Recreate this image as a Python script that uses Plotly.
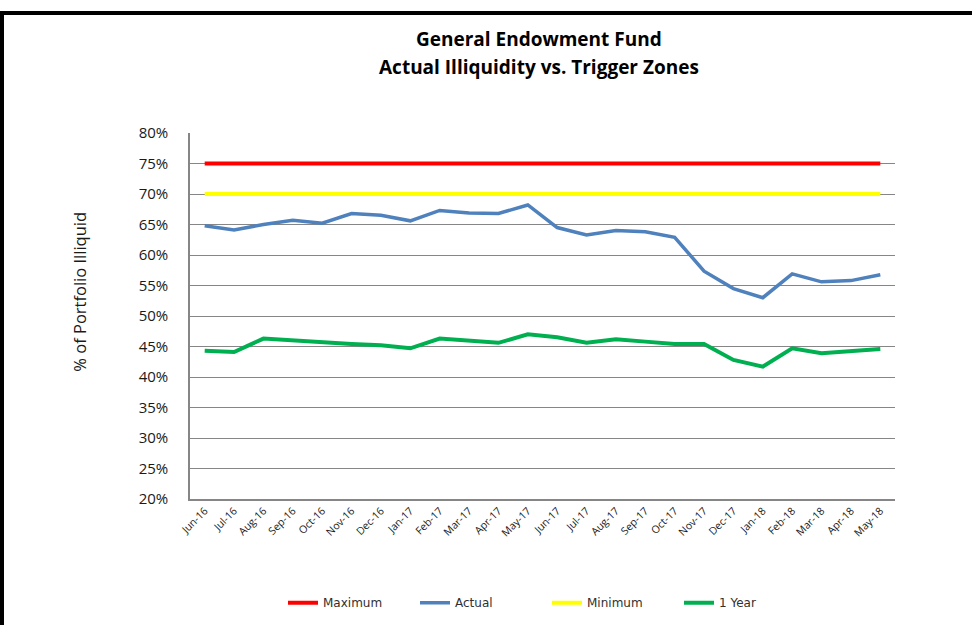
import plotly.graph_objects as go

months = ["Jun-16", "Jul-16", "Aug-16", "Sep-16", "Oct-16", "Nov-16", "Dec-16", "Jan-17",
          "Feb-17", "Mar-17", "Apr-17", "May-17", "Jun-17", "Jul-17", "Aug-17", "Sep-17",
          "Oct-17", "Nov-17", "Dec-17", "Jan-18", "Feb-18", "Mar-18", "Apr-18", "May-18"]

maximum = [75] * 24
minimum = [70] * 24
actual = [64.8, 64.1, 65.0, 65.7, 65.2, 66.8, 66.5, 65.6, 67.3, 66.9, 66.8, 68.2,
          64.5, 63.3, 64.0, 63.8, 62.9, 57.35, 54.5, 53.0, 56.9, 55.6, 55.8, 56.75]
one_year = [44.3, 44.1, 46.3, 46.0, 45.6, 45.4, 45.2, 44.7, 46.3, 45.9, 45.6, 47.0,
            46.5, 45.6, 46.2, 45.8, 45.4, 45.4, 42.8, 41.7, 44.7, 43.9, 44.3, 44.6]

y_ticks = [20, 25, 30, 35, 40, 45, 50, 55, 60, 65, 70, 75, 80]
y_tick_labels = [f"{v}%" for v in y_ticks]

W, H = 972, 629
L, R, T, B = 190, 895, 133, 502  # plot area in px

def px_x(px):
    return (px - L) / (R - L)

def px_y(py):
    return (B - py) / (B - T)

FONT = "Open Sans, Lato, Carlito, Calibri"

fig = go.Figure()
fig.add_trace(go.Scatter(x=months, y=maximum, name="Maximum", mode="lines",
                         line=dict(color="#FF0000", width=4)))
fig.add_trace(go.Scatter(x=months, y=actual, name="Actual", mode="lines",
                         line=dict(color="#4F81BD", width=3.5)))
fig.add_trace(go.Scatter(x=months, y=minimum, name="Minimum", mode="lines",
                         line=dict(color="#FFFF00", width=4)))
fig.add_trace(go.Scatter(x=months, y=one_year, name="1 Year", mode="lines",
                         line=dict(color="#00B050", width=4)))

fig.update_layout(
    width=W, height=H,
    margin=dict(l=L, r=W - R, t=T, b=H - B, pad=0),
    paper_bgcolor="white", plot_bgcolor="white",
    showlegend=True,
    legend=dict(orientation="h", x=px_x(283), y=px_y(592), xanchor="left", yanchor="top",
                font=dict(family="DejaVu Sans, Verdana", size=12, color="#303030"),
                entrywidth=87, bgcolor="rgba(0,0,0,0)"),
    xaxis=dict(type="category", range=[-0.5, 23.5], showgrid=False,
               showline=True, linecolor="#868686", linewidth=1.5,
               ticks="", tickangle=-45,
               tickfont=dict(family=FONT, size=10.5, color="#1a1a1a")),
    yaxis=dict(range=[20, 80], tickvals=y_ticks, ticktext=y_tick_labels,
               showgrid=True, gridcolor="#868686", gridwidth=1,
               showline=True, linecolor="#868686", linewidth=1.5,
               ticks="", ticklabelstandoff=17, zeroline=False,
               tickfont=dict(family=FONT, size=15, color="#1a1a1a")),
    annotations=[
        dict(text="<b>General Endowment Fund</b>", xref="paper", yref="paper",
             x=px_x(539), y=px_y(38), xanchor="center", yanchor="middle", showarrow=False,
             font=dict(family=FONT, size=19, color="black")),
        dict(text="<b>Actual Illiquidity vs. Trigger Zones</b>", xref="paper", yref="paper",
             x=px_x(539), y=px_y(66), xanchor="center", yanchor="middle", showarrow=False,
             font=dict(family=FONT, size=19, color="black")),
        dict(text="% of Portfolio Illiquid", xref="paper", yref="paper",
             x=px_x(80), y=px_y(293), xanchor="center", yanchor="middle", showarrow=False,
             textangle=-90,
             font=dict(family=FONT, size=16.5, color="#1a1a1a")),
    ],
    shapes=[
        dict(type="line", xref="paper", yref="paper", x0=px_x(0), x1=px_x(W), y0=px_y(12), y1=px_y(12),
             line=dict(color="black", width=4)),
        dict(type="line", xref="paper", yref="paper", x0=px_x(2), x1=px_x(2), y0=px_y(10), y1=px_y(H),
             line=dict(color="black", width=4)),
    ],
)

fig.write_html("out.html", config={"displayModeBar": False},
               post_script="document.body.style.margin='0';")
